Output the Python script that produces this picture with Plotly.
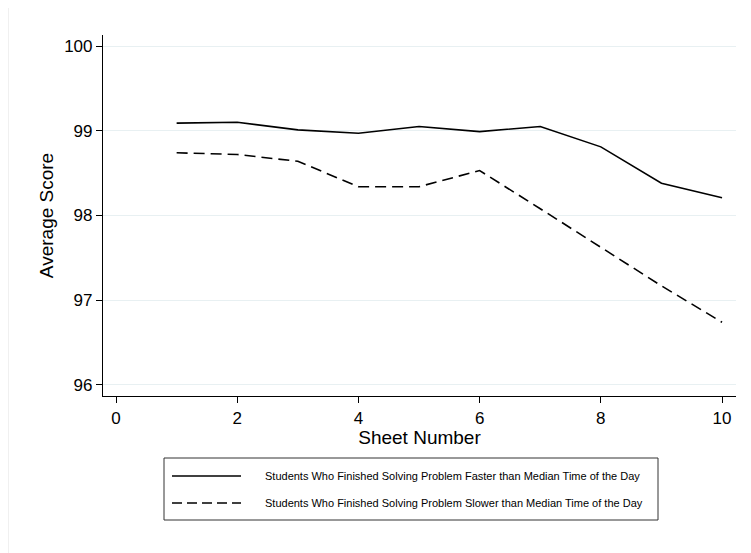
import plotly.graph_objects as go

sheets = [1, 2, 3, 4, 5, 6, 7, 8, 9, 10]
faster = [99.09, 99.10, 99.01, 98.97, 99.05, 98.99, 99.05, 98.81, 98.38, 98.21]
slower = [98.74, 98.72, 98.64, 98.34, 98.34, 98.53, 98.08, 97.63, 97.17, 96.74]
name_fast = "Students Who Finished Solving Problem Faster than Median Time of the Day"
name_slow = "Students Who Finished Solving Problem Slower than Median Time of the Day"
x_ticks = [0, 2, 4, 6, 8, 10]
y_ticks = [96, 97, 98, 99, 100]

W, H = 751, 553
OFF = 8  # page body margin
FONT = "Liberation Sans, Arial, Helvetica, sans-serif"
DASH = "11px,6px"
LEG_DASH = "10px,5px"

L, T = 103 - OFF, 35 - OFF
R = W - (736 - OFF)
B = H - (396 - OFF)
pw, ph = W - L - R, H - T - B

fig = go.Figure()
fig.add_trace(go.Scatter(x=sheets, y=faster, mode="lines", name=name_fast,
                         line=dict(color="black", width=1.6, dash="solid"), showlegend=False))
fig.add_trace(go.Scatter(x=sheets, y=slower, mode="lines", name=name_slow,
                         line=dict(color="black", width=1.6, dash=DASH), showlegend=False))

fig.update_layout(
    width=W, height=H,
    margin=dict(l=L, r=R, t=T, b=B),
    paper_bgcolor="white", plot_bgcolor="white",
    font=dict(family=FONT, color="black"),
    xaxis=dict(range=[-0.215, 10.23], tickvals=x_ticks, showgrid=False, zeroline=False,
               showline=True, linecolor="black", linewidth=1.2,
               ticks="outside", ticklen=6, tickcolor="black", tickwidth=1.2,
               tickfont=dict(size=17),
               title=dict(text="Sheet Number", font=dict(size=19), standoff=4)),
    yaxis=dict(range=[95.87, 100.13], tickvals=y_ticks, showgrid=True, gridcolor="#e8f0f2",
               gridwidth=1, zeroline=False,
               showline=True, linecolor="black", linewidth=1.2,
               ticks="outside", ticklen=6, tickcolor="black", tickwidth=1.2,
               tickfont=dict(size=17),
               title=dict(text="Average Score", font=dict(size=19), standoff=5)),
)


def dx(x):
    return (x - 103) / pw


def dy(y):
    return (396 - y) / ph


shapes = [
    dict(type="line", xref="paper", yref="paper", x0=dx(OFF + 0.5), x1=dx(OFF + 0.5),
         y0=-1, y1=2, line=dict(color="#f0f0f0", width=1), layer="below"),
    dict(type="rect", xref="paper", yref="paper", x0=dx(164), x1=dx(658),
         y0=dy(520), y1=dy(458), line=dict(color="#333333", width=1)),
    dict(type="line", xref="paper", yref="paper", x0=dx(172), x1=dx(241),
         y0=dy(476), y1=dy(476), line=dict(color="black", width=1.6)),
    dict(type="line", xref="paper", yref="paper", x0=dx(172), x1=dx(241),
         y0=dy(503), y1=dy(503), line=dict(color="black", width=1.6, dash=LEG_DASH)),
]
fig.update_layout(shapes=shapes)

fig.add_annotation(xref="paper", yref="paper", x=dx(263), y=dy(476), text=name_fast,
                   showarrow=False, xanchor="left", yanchor="middle", font=dict(size=11, color="black"))
fig.add_annotation(xref="paper", yref="paper", x=dx(263), y=dy(503), text=name_slow,
                   showarrow=False, xanchor="left", yanchor="middle", font=dict(size=11, color="black"))

fig.write_html("out.html")
